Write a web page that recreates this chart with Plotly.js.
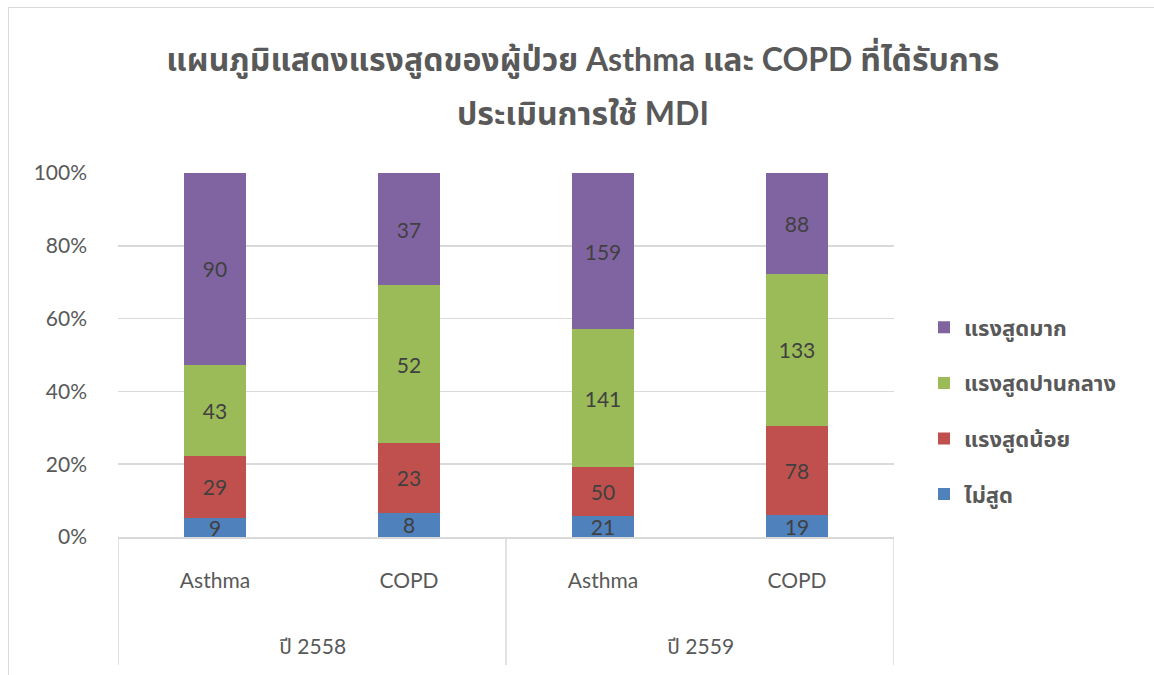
<!DOCTYPE html>
<html>
<head>
<meta charset="utf-8">
<script src="https://cdn.plot.ly/plotly-3.0.1.min.js"></script>
<style>
html,body{margin:0;padding:0;background:#fff;}
#frame{position:absolute;left:8px;top:7px;width:1160px;height:680px;border:1.5px solid #d9d9d9;box-sizing:border-box;}
#chart{position:absolute;left:0;top:0;width:1154px;height:675px;}
</style>
</head>
<body>
<div id="frame"></div>
<div id="chart"></div>
<script>
const years = ['ปี 2558', 'ปี 2558', 'ปี 2559', 'ปี 2559'];
const groups = ['Asthma', 'COPD', 'Asthma', 'COPD'];
const seriesNames = ['ไม่สูด', 'แรงสูดน้อย', 'แรงสูดปานกลาง', 'แรงสูดมาก'];
const notInhaled = [9, 8, 21, 19];
const lowForce = [29, 23, 50, 78];
const midForce = [43, 52, 141, 133];
const highForce = [90, 37, 159, 88];
const seriesColors = ['#4f81bd', '#c0504d', '#9bbb59', '#8064a2'];
const yTickVals = [0, 20, 40, 60, 80, 100];
const yTickText = ['0%', '20%', '40%', '60%', '80%', '100%'];
const titleLine1 = 'แผนภูมิแสดงแรงสูดของผู้ป่วย Asthma และ COPD ที่ได้รับการ';
const titleLine2 = 'ประเมินการใช้ MDI';

const seriesValues = [notInhaled, lowForce, midForce, highForce];
const font = 'Lato, "Noto Sans", "Noto Sans Thai", sans-serif';
const pos = groups.map((_, i) => i);          // category slots on the x axis

// year groups: centre of their slots, and the boundaries between groups
const yearNames = [...new Set(years)];
const yearCenters = yearNames.map(y => {
  const idx = pos.filter(i => years[i] === y);
  return (idx[0] + idx[idx.length - 1]) / 2;
});
const boundaries = [-0.5];
yearNames.forEach(y => {
  const idx = pos.filter(i => years[i] === y);
  boundaries.push(idx[idx.length - 1] + 0.5);
});

const traces = seriesValues.map((vals, i) => ({
  type: 'bar',
  name: seriesNames[i],
  legendgroup: 'g' + i,
  legendrank: 10 - i,
  x: pos,
  y: vals,
  text: vals.map(String),
  textposition: 'inside',
  insidetextanchor: 'middle',
  textangle: 0,
  textfont: {family: font, size: 21, color: '#404040'},
  marker: {color: seriesColors[i], line: {width: 0}},
  hoverinfo: 'name+y'
}));

const gray = '#595959';
const annotations = [{
  text: titleLine2,
  font: {family: font, size: 32, color: gray, weight: 'bold'},
  xref: 'paper', yref: 'paper',
  x: (583 - 118) / 776, y: (537 - 113) / 364,
  xanchor: 'center', yanchor: 'middle', showarrow: false
}].concat(yearNames.map((y, k) => ({
  text: y,
  font: {family: font, size: 21, color: gray},
  xref: 'x', yref: 'paper',
  x: yearCenters[k], y: (537 - 645) / 364,
  xanchor: 'center', yanchor: 'middle', showarrow: false
})));

const shapes = boundaries.map(b => ({
  type: 'line', xref: 'x', yref: 'paper',
  x0: b, x1: b, y0: 0, y1: -(665 - 537) / 364,
  line: {color: '#d9d9d9', width: 1.5}
}));

const layout = {
  width: 1154, height: 675,
  paper_bgcolor: 'rgba(0,0,0,0)',
  plot_bgcolor: 'rgba(0,0,0,0)',
  margin: {l: 118, r: 260, t: 173, b: 138},
  barmode: 'stack',
  barnorm: 'percent',
  bargap: 0.68,
  uniformtext: {mode: 'show', minsize: 21},
  title: {
    text: titleLine1,
    font: {family: font, size: 32, color: gray, weight: 'bold'},
    x: 0.505, xanchor: 'center', xref: 'container',
    y: 1 - 60 / 675, yanchor: 'middle', yref: 'container'
  },
  annotations: annotations,
  shapes: shapes,
  xaxis: {
    range: [-0.5, pos.length - 0.5],
    tickvals: pos, ticktext: groups,
    showgrid: false, zeroline: false,
    showline: true, linecolor: '#d9d9d9', linewidth: 1.5,
    tickfont: {family: font, size: 21, color: gray},
    ticklabelstandoff: 24,
    ticks: '', fixedrange: true
  },
  yaxis: {
    range: [0, 100],
    tickvals: yTickVals,
    ticktext: yTickText,
    showgrid: true, gridcolor: '#d9d9d9', gridwidth: 1.5,
    zeroline: false, showline: false,
    tickfont: {family: font, size: 21, color: gray},
    ticklabelstandoff: 30,
    fixedrange: true
  },
  legend: {
    x: (924 - 118) / 776, xanchor: 'left', xref: 'paper',
    y: (537 - 411) / 364, yanchor: 'middle',
    traceorder: 'grouped',
    tracegroupgap: 24,
    font: {family: font, size: 22, color: gray, weight: 'bold'},
    itemwidth: 30
  },
  showlegend: true
};

Plotly.newPlot('chart', traces, layout, {displayModeBar: false, staticPlot: true});
</script>
</body>
</html>
